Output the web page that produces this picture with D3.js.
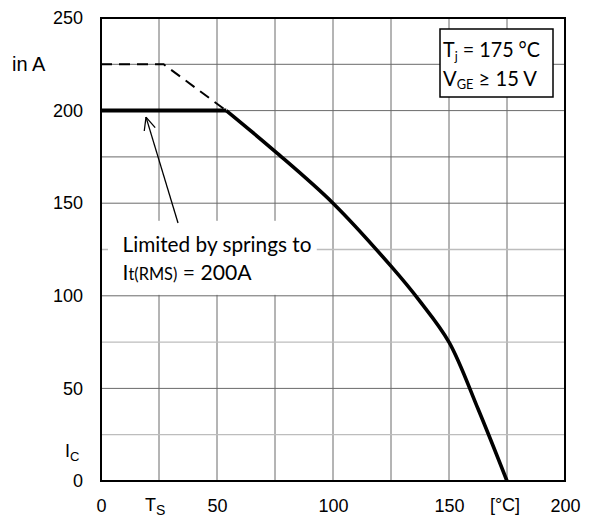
<!doctype html>
<html>
<head>
<meta charset="utf-8">
<script src="https://d3js.org/d3.v7.min.js"></script>
<style>
  body { margin: 0; background: #fff; }
  svg { display: block; }
  .tick text { font-family: "Liberation Sans", Arial, sans-serif; font-size: 18px; fill: #000; }
  .lbl { font-family: "Liberation Sans", Arial, sans-serif; fill: #000; }
  .note { font-family: Lato, "Open Sans", sans-serif; fill: #000; }
</style>
</head>
<body>
<svg width="595" height="522"></svg>
<script>
// values
var xTicks = [0, 50, 100, 150, 200];
var yTicks = [0, 50, 100, 150, 200, 250];
var gridX = [25, 50, 75, 100, 125, 150, 175];
var gridYDark = [50, 100, 150, 175, 200, 225];
var gridYLight = [25, 75, 125];

var limitX = [0, 54];
var limitY = [200, 200];
var curveX = [54, 75, 100, 125, 137.5, 150, 162.5, 175];
var curveY = [200, 178, 150, 116, 97, 75, 39, 0];
var dashX = [0, 27, 54];
var dashY = [225, 225, 200];

var svg = d3.select("svg");
var x = d3.scaleLinear().domain([0, 200]).range([101, 565]);
var y = d3.scaleLinear().domain([0, 250]).range([481, 18]);

// grid
svg.selectAll("line.gx").data(gridX).enter().append("line")
  .attr("class", "gx")
  .attr("x1", d => x(d)).attr("x2", d => x(d))
  .attr("y1", y(0)).attr("y2", y(250))
  .attr("stroke", "#6a6a6a").attr("stroke-width", 1);
svg.selectAll("line.gyl").data(gridYLight).enter().append("line")
  .attr("class", "gyl")
  .attr("x1", x(0)).attr("x2", x(200))
  .attr("y1", d => y(d)).attr("y2", d => y(d))
  .attr("stroke", "#bdbdbd").attr("stroke-width", 1.3);
svg.selectAll("line.gyd").data(gridYDark).enter().append("line")
  .attr("class", "gyd")
  .attr("x1", x(0)).attr("x2", x(200))
  .attr("y1", d => y(d)).attr("y2", d => y(d))
  .attr("stroke", "#6a6a6a").attr("stroke-width", 1);

// white patch behind the annotation text
svg.append("rect")
  .attr("x", x(3)).attr("y", y(140.5))
  .attr("width", x(93) - x(3)).attr("height", y(100.5) - y(140.5))
  .attr("fill", "#fff");

// frame
svg.append("rect")
  .attr("x", x(0)).attr("y", y(250))
  .attr("width", x(200) - x(0)).attr("height", y(0) - y(250))
  .attr("fill", "none").attr("stroke", "#000").attr("stroke-width", 2);

// axes
var yAxis = d3.axisLeft(y).tickValues(yTicks).tickSize(0).tickPadding(18);
svg.append("g").attr("transform", "translate(" + x(0) + ",0)").call(yAxis)
  .call(g => g.select(".domain").remove());
var xAxis = d3.axisBottom(x).tickValues(xTicks).tickSize(0).tickPadding(18);
svg.append("g").attr("transform", "translate(0," + y(0) + ")").call(xAxis)
  .call(g => g.select(".domain").remove());

// unit / symbol labels
svg.append("text").attr("class", "lbl").attr("x", 12).attr("y", y(225) + 7)
  .attr("font-size", 20).text("in A");
var ic = svg.append("text").attr("class", "lbl").attr("x", 65).attr("y", 457).attr("font-size", 18);
ic.append("tspan").text("I");
ic.append("tspan").attr("font-size", 13).attr("dy", 4).text("C");
var ts = svg.append("text").attr("class", "lbl").attr("x", x(25) - 14).attr("y", 511).attr("font-size", 18);
ts.append("tspan").text("T");
ts.append("tspan").attr("font-size", 14).attr("dy", 4).text("S");
svg.append("text").attr("class", "lbl").attr("x", x(175) - 2).attr("y", 511)
  .attr("font-size", 18).attr("text-anchor", "middle").text("[°C]");

// curves
var line = d3.line().x(d => x(d[0])).y(d => y(d[1]));
svg.append("path")
  .attr("d", line(d3.zip(dashX, dashY)))
  .attr("fill", "none").attr("stroke", "#000").attr("stroke-width", 2)
  .attr("stroke-dasharray", "11,7");
svg.append("path")
  .attr("d", line(d3.zip(limitX, limitY)))
  .attr("fill", "none").attr("stroke", "#000").attr("stroke-width", 4);
svg.append("path")
  .attr("d", line.curve(d3.curveCatmullRom.alpha(0.5))(d3.zip(curveX, curveY)))
  .attr("fill", "none").attr("stroke", "#000").attr("stroke-width", 3.6)
  .attr("stroke-linejoin", "round");

// arrow
var tip = [x(19.4), y(196.5)], tail = [x(33.2), y(139.3)];
svg.append("line")
  .attr("x1", tail[0]).attr("y1", tail[1]).attr("x2", tip[0]).attr("y2", tip[1])
  .attr("stroke", "#000").attr("stroke-width", 1.3);
var ang = Math.atan2(tail[1] - tip[1], tail[0] - tip[0]);
[-0.42, 0.42].forEach(function (a) {
  svg.append("line")
    .attr("x1", tip[0]).attr("y1", tip[1])
    .attr("x2", tip[0] + 14 * Math.cos(ang + a)).attr("y2", tip[1] + 14 * Math.sin(ang + a))
    .attr("stroke", "#000").attr("stroke-width", 1.3);
});

// annotation text
svg.append("text").attr("class", "note").attr("x", 122.5).attr("y", 252)
  .attr("font-size", 22).attr("textLength", 189).attr("lengthAdjust", "spacingAndGlyphs")
  .text("Limited by springs to");
var it = svg.append("text").attr("class", "note").attr("x", 122.5).attr("y", 280).attr("font-size", 22)
  .attr("textLength", 129).attr("lengthAdjust", "spacingAndGlyphs");
it.append("tspan").text("I");
it.append("tspan").attr("font-size", 17).text("t(RMS)");
it.append("tspan").text("  = 200A");

// conditions box
svg.append("rect").attr("x", 440).attr("y", 29).attr("width", 113).attr("height", 68)
  .attr("fill", "#fff").attr("stroke", "#000").attr("stroke-width", 1.5);
var t1 = svg.append("text").attr("class", "note").attr("x", 443).attr("y", 57).attr("font-size", 22)
  .attr("textLength", 97).attr("lengthAdjust", "spacingAndGlyphs");
t1.append("tspan").text("T");
t1.append("tspan").attr("font-size", 14).attr("dy", 4).text("j");
t1.append("tspan").attr("dy", -4).text(" = 175 °C");
var t2 = svg.append("text").attr("class", "note").attr("x", 443).attr("y", 86).attr("font-size", 22)
  .attr("textLength", 94).attr("lengthAdjust", "spacingAndGlyphs");
t2.append("tspan").text("V");
t2.append("tspan").attr("font-size", 14).attr("dy", 3).text("GE");
t2.append("tspan").attr("dy", -3).text(" ≥ 15 V");
</script>
</body>
</html>
